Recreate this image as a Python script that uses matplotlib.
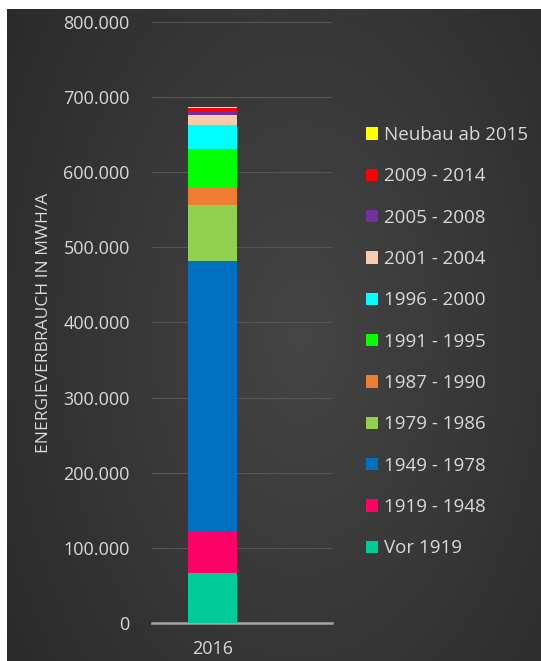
import numpy as np
import matplotlib
matplotlib.use("Agg")
import matplotlib.pyplot as plt
from matplotlib.ticker import FuncFormatter

plt.rcParams["font.family"] = ["Open Sans", "DejaVu Sans"]

year = ["2016"]
periods = ["Vor 1919", "1919 - 1948", "1949 - 1978", "1979 - 1986", "1987 - 1990",
           "1991 - 1995", "1996 - 2000", "2001 - 2004", "2005 - 2008", "2009 - 2014",
           "Neubau ab 2015"]
values = [67000, 54000, 361000, 75000, 22000, 52000, 32000, 13000, 6000, 4000, 500]
colors = ["#00cc99", "#ff0066", "#0070c0", "#92d050", "#ed7d31", "#00ff00",
          "#00ffff", "#f8cbad", "#7030a0", "#ff0000", "#ffff00"]

txt = "#d9d9d9"
fig = plt.figure(figsize=(5.41, 6.61), dpi=100, facecolor="white")

# dark radial background (white margin at top/left like the screenshot)
bg = fig.add_axes([7 / 541, 0, 1 - 7 / 541, 1 - 9 / 661])
yy, xx = np.mgrid[0:1:300j, 0:1:300j]
d = np.sqrt(((xx - 0.55) / 0.9) ** 2 + ((yy - 0.5) / 1.2) ** 2)
shade = np.clip(0.27 - 0.14 * d, 0.16, 0.27)
bg.imshow(np.dstack([shade] * 3), extent=(0, 1, 0, 1), aspect="auto", origin="lower")
bg.axis("off")

ax = fig.add_axes([152 / 541, 1 - 623 / 661, 180 / 541, 601 / 661])
ax.patch.set_alpha(0)

bottom = 0
handles = []
for lab, v, c in zip(periods, values, colors):
    h = ax.bar([0], [v], bottom=bottom, width=0.49, color=c, label=lab, zorder=3)
    handles.append(h)
    bottom += v

ax.set_xlim(-0.605, 1.195)
ax.set_ylim(0, 800000)
ax.set_xticks([0])
ax.set_xticklabels(year)
ax.set_yticks(np.arange(0, 800001, 100000))
ax.yaxis.set_major_formatter(FuncFormatter(lambda v, p: f"{int(v):,}".replace(",", ".")))
ax.grid(axis="y", color="#555555", lw=0.8, zorder=0)
for s in ["top", "right", "left"]:
    ax.spines[s].set_visible(False)
ax.spines["bottom"].set_color("#a6a6a6")
ax.spines["bottom"].set_linewidth(1.8)
ax.tick_params(length=0, colors=txt, labelsize=13)
ax.tick_params(axis="y", pad=16)
ax.tick_params(axis="x", pad=12)
ax.set_ylabel("ENERGIEVERBRAUCH IN MWH/A", color=txt, fontsize=12.5, labelpad=8)

fig.legend(handles[::-1], periods[::-1], loc="upper left",
           bbox_to_anchor=(366 / 541, 1 - 126 / 661), frameon=False,
           labelcolor=txt, fontsize=13.5, labelspacing=1.245,
           handlelength=0.65, handleheight=0.65, handletextpad=0.3,
           borderaxespad=0, borderpad=0)

fig.savefig("out.png", dpi=100, facecolor="white")
